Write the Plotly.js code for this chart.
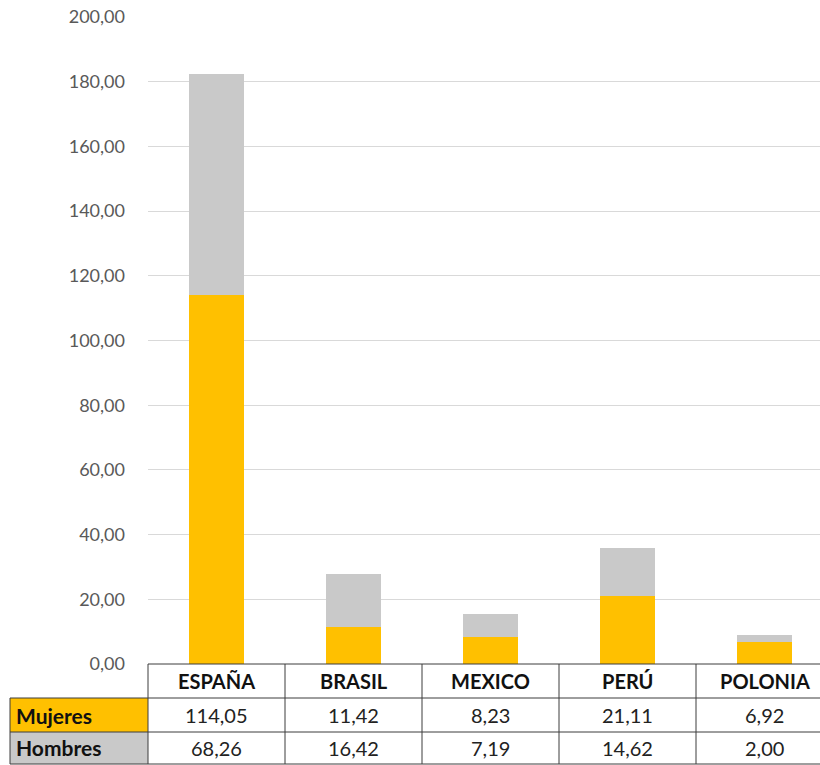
<!DOCTYPE html>
<html>
<head>
<meta charset="utf-8">
<script src="https://cdn.plot.ly/plotly-3.0.1.min.js"></script>
<style>html,body{margin:0;padding:0;background:#fff;}#chart{width:820px;height:765px;}</style>
</head>
<body>
<div id="chart"></div>
<script>
const categories = ["ESPAÑA", "BRASIL", "MEXICO", "PERÚ", "POLONIA"];
const seriesNames = ["Mujeres", "Hombres"];
const mujeres = [114.05, 11.42, 8.23, 21.11, 6.92];
const hombres = [68.26, 16.42, 7.19, 14.62, 2.00];
const yTicks = [0, 20, 40, 60, 80, 100, 120, 140, 160, 180, 200];

const W = 820, H = 765;
const L = 148, R = 0, T = 17, B = 101;
const plotH = H - T - B;
const plotW = W - L - R;
const FONT = "Lato, 'Liberation Sans', sans-serif";
const colMujeres = "#FFC000", colHombres = "#C9C9C9";
const lineCol = "#3c3c3c";

const py = px => (H - B - px) / plotH;      // pixel row -> paper y
const pxx = px => (px - L) / plotW;         // pixel col -> paper x

const rowTop = [664, 698, 732, 764];
const labelLeft = 10;

const fmt = v => v.toFixed(2).replace('.', ',');

const traces = [
  {type: 'bar', name: seriesNames[0], x: categories.map((c, i) => i), y: mujeres,
   marker: {color: colMujeres}, width: 0.4, hoverinfo: 'skip'},
  {type: 'bar', name: seriesNames[1], x: categories.map((c, i) => i), y: hombres,
   marker: {color: colHombres}, width: 0.4, hoverinfo: 'skip'}
];

const shapes = [];
const annotations = [];

// label cell backgrounds
shapes.push({type: 'rect', xref: 'paper', yref: 'paper', x0: pxx(labelLeft), x1: 0, y0: py(rowTop[1]), y1: py(rowTop[2]),
  fillcolor: colMujeres, line: {width: 0}, layer: 'below'});
shapes.push({type: 'rect', xref: 'paper', yref: 'paper', x0: pxx(labelLeft), x1: 0, y0: py(rowTop[2]), y1: py(rowTop[3]),
  fillcolor: colHombres, line: {width: 0}, layer: 'below'});

// horizontal lines
shapes.push({type: 'line', xref: 'paper', yref: 'paper', x0: 0, x1: 1, y0: py(rowTop[0]), y1: py(rowTop[0]), line: {color: lineCol, width: 1}});
for (let r = 1; r < rowTop.length; r++) {
  shapes.push({type: 'line', xref: 'paper', yref: 'paper', x0: pxx(labelLeft), x1: 1, y0: py(rowTop[r]), y1: py(rowTop[r]), line: {color: lineCol, width: 1}});
}
// vertical lines
shapes.push({type: 'line', xref: 'paper', yref: 'paper', x0: pxx(labelLeft), x1: pxx(labelLeft), y0: py(rowTop[1]), y1: py(rowTop[3]), line: {color: lineCol, width: 1}});
categories.forEach((c, i) => {
  if (i === 0) {
    shapes.push({type: 'line', xref: 'paper', yref: 'paper', x0: 0, x1: 0, y0: py(rowTop[0]), y1: py(rowTop[3]), line: {color: lineCol, width: 1}});
  } else {
    shapes.push({type: 'line', xref: 'x', yref: 'paper', x0: i - 0.5, x1: i - 0.5, y0: py(rowTop[0]), y1: py(rowTop[3]), line: {color: lineCol, width: 1}});
  }
});

// header + values
const rowMid = r => py((rowTop[r] + rowTop[r + 1]) / 2);
categories.forEach((c, i) => {
  annotations.push({xref: 'x', yref: 'paper', x: i, y: rowMid(0), text: '<b>' + c + '</b>', showarrow: false,
    font: {family: FONT, size: 20, color: '#111'}, xanchor: 'center', yanchor: 'middle'});
  annotations.push({xref: 'x', yref: 'paper', x: i, y: rowMid(1), text: fmt(mujeres[i]), showarrow: false,
    font: {family: FONT, size: 20, color: '#222'}, xanchor: 'center', yanchor: 'middle'});
  annotations.push({xref: 'x', yref: 'paper', x: i, y: rowMid(2), text: fmt(hombres[i]), showarrow: false,
    font: {family: FONT, size: 20, color: '#222'}, xanchor: 'center', yanchor: 'middle'});
});
seriesNames.forEach((n, k) => {
  annotations.push({xref: 'paper', yref: 'paper', x: pxx(labelLeft + 4), y: rowMid(k + 1), text: '<b>' + n + '</b>', showarrow: false,
    font: {family: FONT, size: 21, color: '#111'}, xanchor: 'left', yanchor: 'middle'});
});

const layout = {
  width: W, height: H,
  margin: {l: L, r: R, t: T, b: B, pad: 0},
  paper_bgcolor: '#fff', plot_bgcolor: '#fff',
  separators: ',.',
  barmode: 'stack',
  showlegend: false,
  xaxis: {range: [-0.5, -0.5 + plotW / 137], showticklabels: false, showgrid: false, zeroline: false, showline: false, ticks: '', fixedrange: true},
  yaxis: {range: [0, 200], tickvals: yTicks, tickformat: '.2f', showgrid: true, gridcolor: '#d9d9d9', gridwidth: 1,
    zeroline: false, showline: false, ticks: '', ticklabelstandoff: 22,
    tickfont: {family: FONT, size: 18, color: '#595959'}, fixedrange: true},
  shapes: shapes,
  annotations: annotations
};

Plotly.newPlot('chart', traces, layout, {staticPlot: true, displayModeBar: false});
</script>
</body>
</html>
